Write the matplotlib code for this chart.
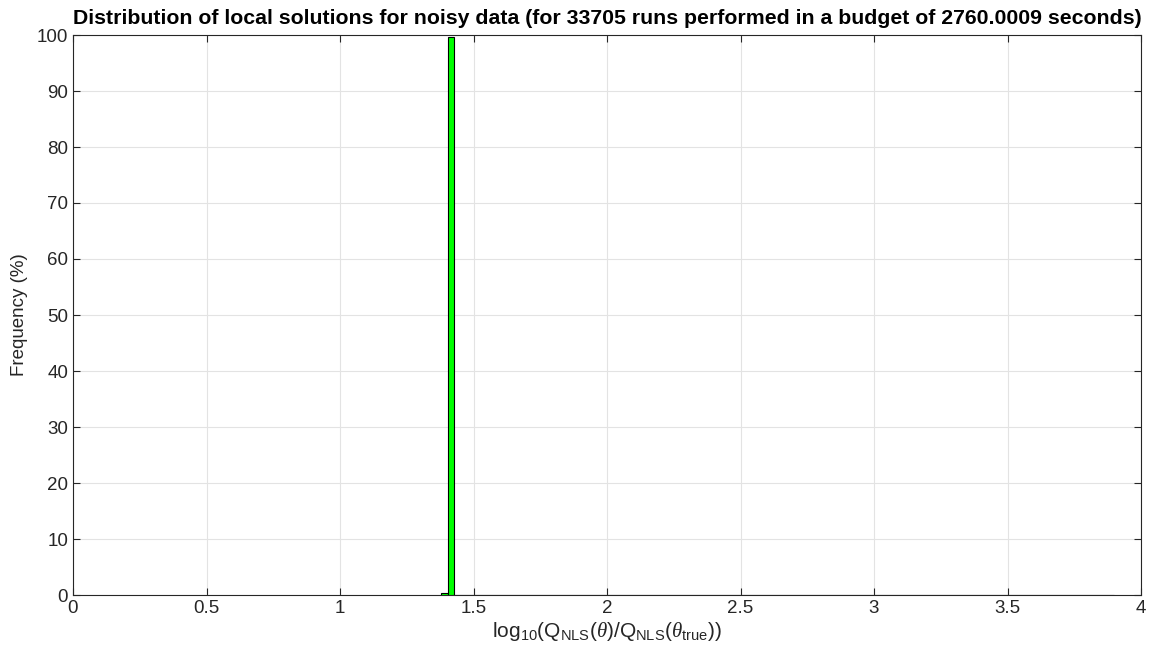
import matplotlib
matplotlib.use("Agg")
import matplotlib.pyplot as plt
import numpy as np

# histogram of log10 cost ratios (percent of runs per bin)
bin_lo = 1.378
bin_hi = 3.90
n_bins = 100
freq = [0.30, 99.68] + [0.0] * 97 + [0.02]

plt.rcParams['font.family'] = ['Liberation Sans', 'DejaVu Sans']
plt.rcParams['mathtext.fontset'] = 'custom'
plt.rcParams['mathtext.rm'] = 'Liberation Sans'
plt.rcParams['mathtext.it'] = 'Liberation Serif:italic'

edges = np.linspace(bin_lo, bin_hi, n_bins + 1)
width = edges[1] - edges[0]

fig = plt.figure(figsize=(11.54, 6.64), dpi=100)
ax = fig.add_axes([73/1154, 69/664, (1141-73)/1154, (595-35)/664])

ax.bar(edges[:-1], freq, width=width, align='edge', color='#00ff00',
       edgecolor='black', linewidth=0.8, zorder=3)

ax.set_xlim(0, 4)
ax.set_ylim(0, 100)
ax.set_xticks(np.arange(0, 4.01, 0.5))
ax.set_xticklabels(['0', '0.5', '1', '1.5', '2', '2.5', '3', '3.5', '4'])
ax.set_yticks(np.arange(0, 101, 10))
ax.grid(True, color='#e3e3e3', linewidth=0.8, zorder=0)
ax.tick_params(direction='in', length=5, labelsize=13.5, colors='#262626',
               top=True, right=True)
for s in ax.spines.values():
    s.set_color('#262626')
    s.set_linewidth(0.8)

ax.set_xlabel(r'log$_{10}$(Q$_{\mathrm{NLS}}$($\theta$)/Q$_{\mathrm{NLS}}$($\theta_{\mathrm{true}}$))',
              fontsize=15, color='#262626', labelpad=2)
ax.set_ylabel('Frequency (%)', fontsize=13.5, color='#262626', labelpad=6)
ax.set_title('Distribution of local solutions for noisy data (for 33705 runs performed in a budget of 2760.0009 seconds)',
             fontsize=15.3, fontweight='bold', pad=8)

fig.savefig('out.png', dpi=100)
